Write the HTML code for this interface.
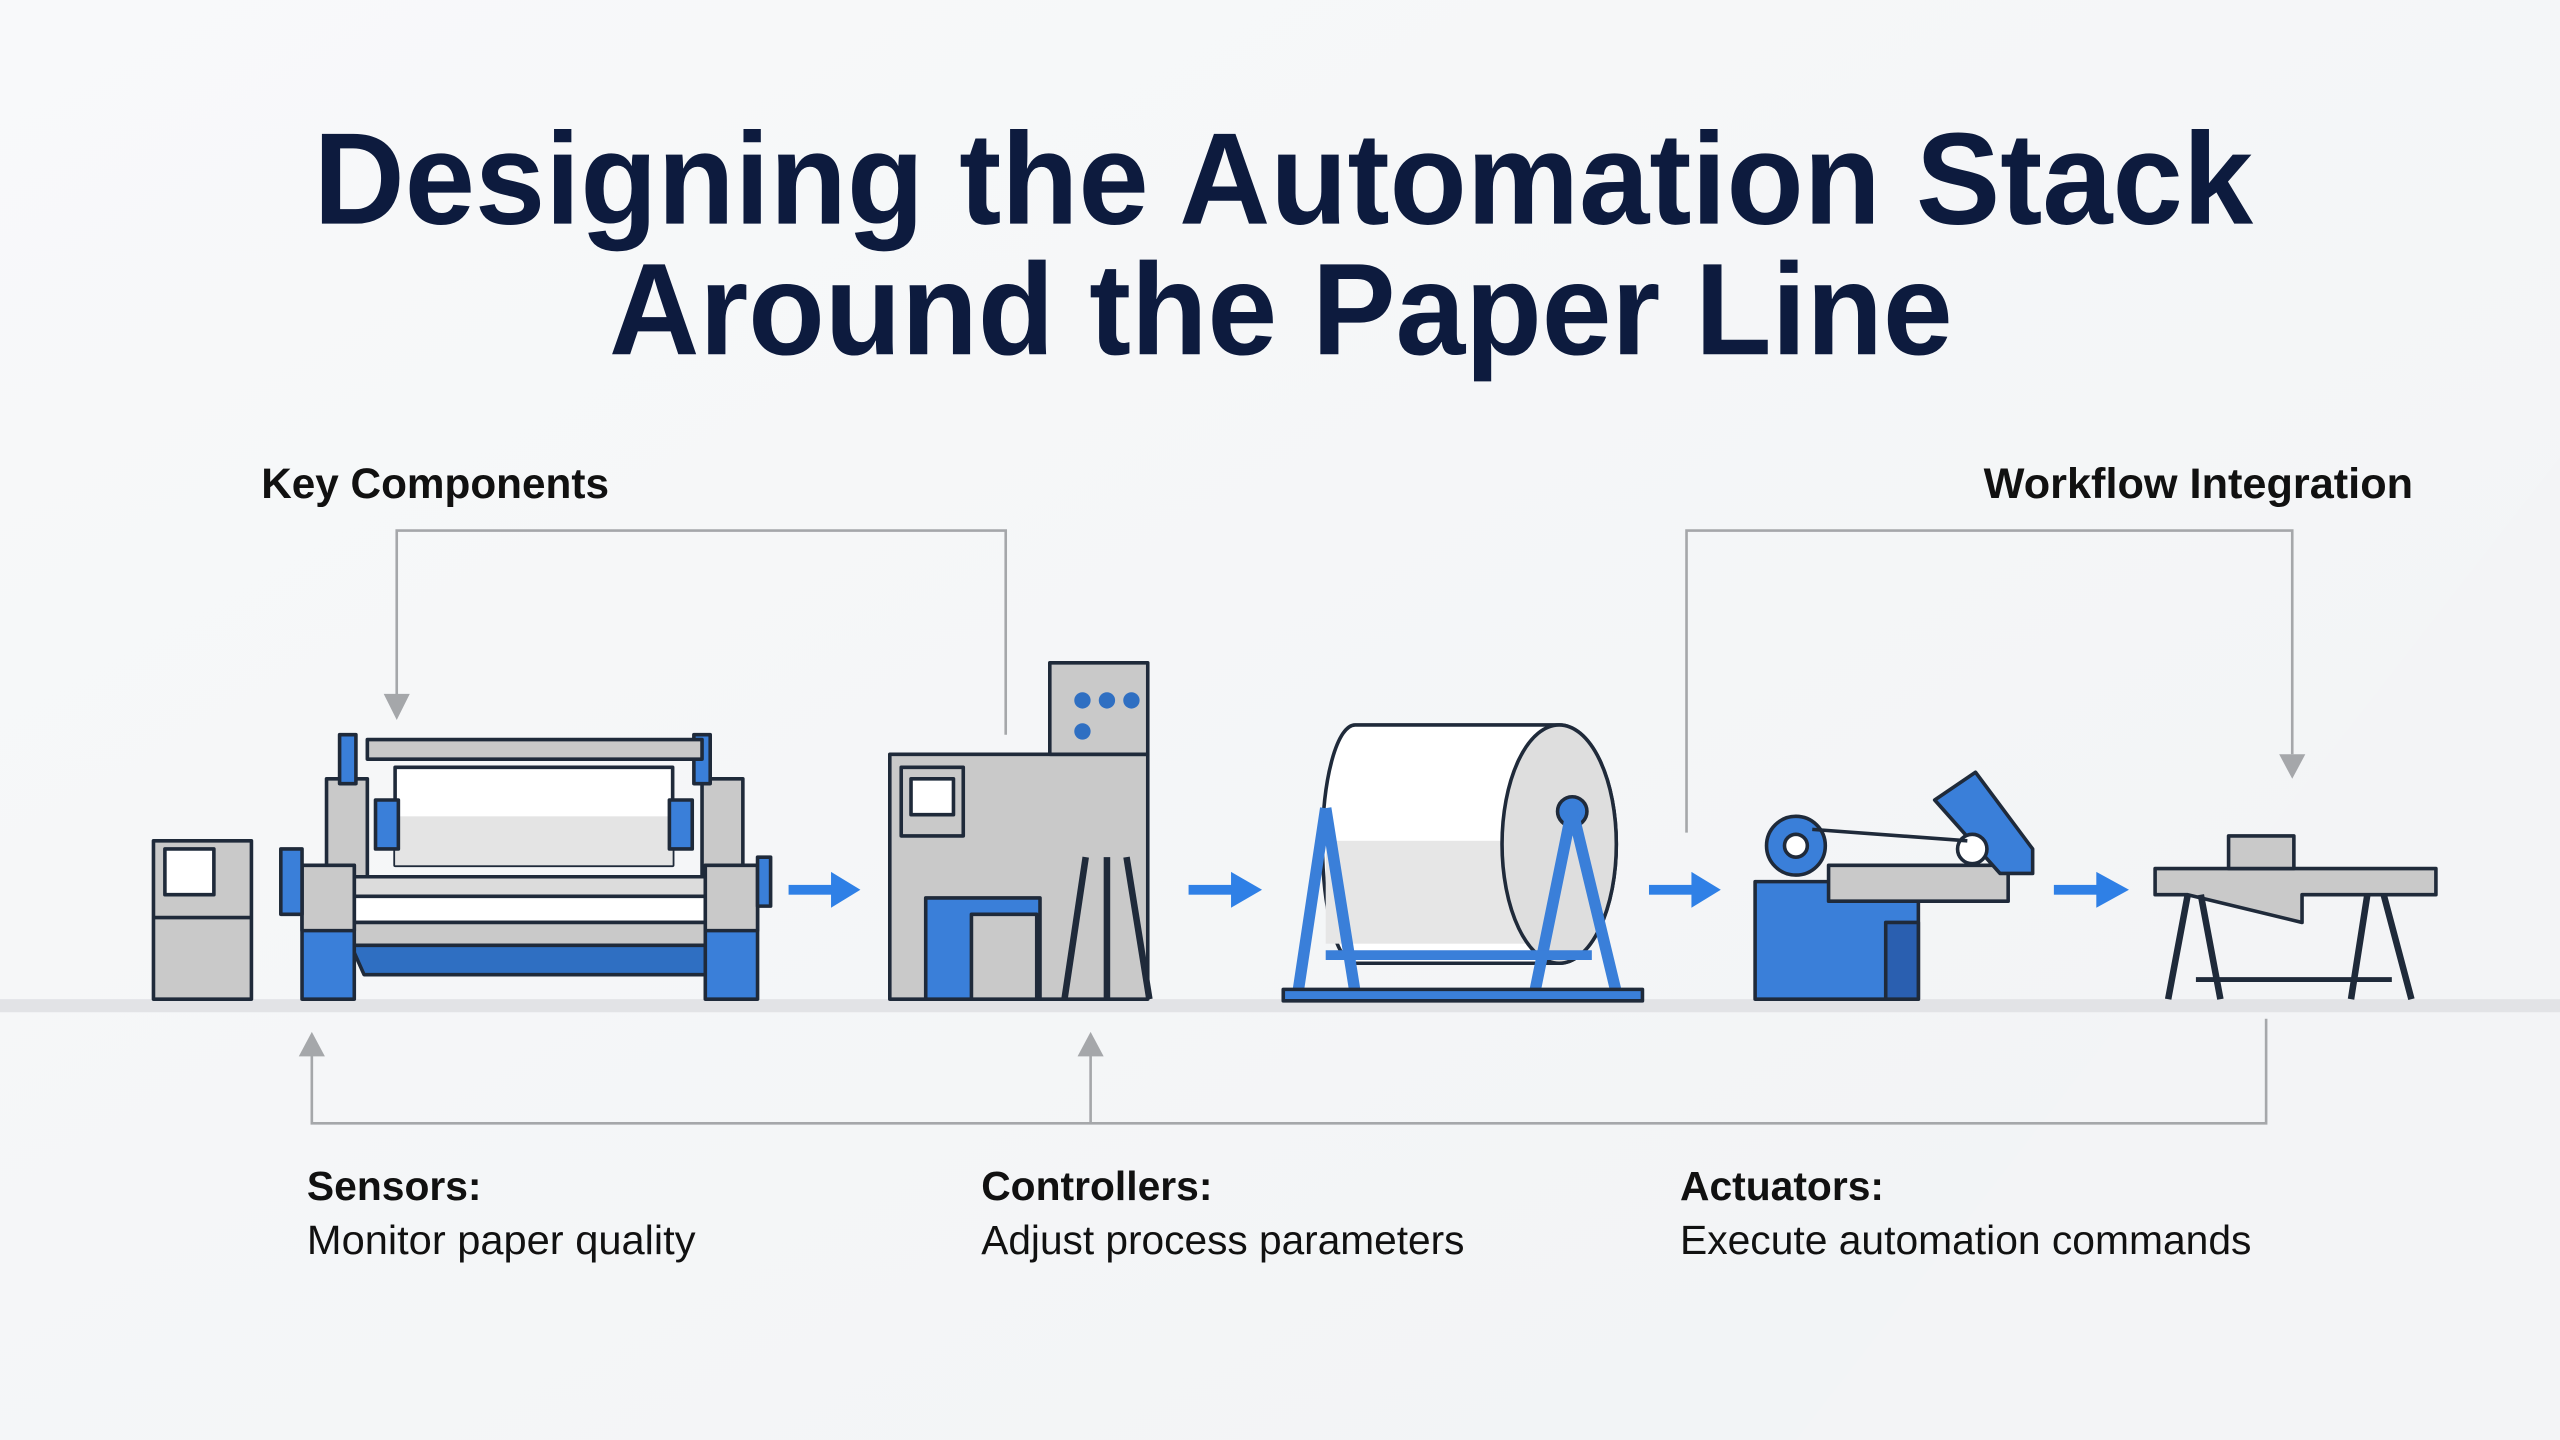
<!DOCTYPE html>
<html><head><meta charset="utf-8"><style>
html,body{margin:0;padding:0;background:#f7f8f9}
svg{display:block}
</style></head><body>
<svg width="2560" height="1440" viewBox="0 0 1568 882" xmlns="http://www.w3.org/2000/svg" font-family="Liberation Sans, sans-serif">
<defs>
<linearGradient id="bg" x1="0" y1="0" x2="1" y2="1"><stop offset="0" stop-color="#f8f9fa"/><stop offset="1" stop-color="#f1f3f5"/></linearGradient>
</defs>
<rect width="1568" height="882" fill="url(#bg)"/>
<polygon points="1568,280 1568,882 1100,882" fill="#f3f4f6"/>
<g fill="#0d1b3e" font-weight="bold">
<text x="192" y="137" font-size="80" textLength="1188" lengthAdjust="spacingAndGlyphs">Designing the Automation Stack</text>
<text x="373" y="217" font-size="80" textLength="823" lengthAdjust="spacingAndGlyphs">Around the Paper Line</text>
</g>
<g fill="#111" font-weight="bold" font-size="26">
<text x="160" y="305" textLength="213" lengthAdjust="spacingAndGlyphs">Key Components</text>
<text x="1215" y="305" textLength="263" lengthAdjust="spacingAndGlyphs">Workflow Integration</text>
</g>
<g stroke="#a5a7aa" stroke-width="1.6" fill="none">
<polyline points="243,426 243,325 616,325 616,450"/>
<polyline points="1033,510 1033,325 1404,325 1404,462"/>
<polyline points="191,646 191,688 1388,688 1388,624"/>
<line x1="668" y1="646" x2="668" y2="688"/>
</g>
<g fill="#a5a7aa">
<polygon points="235,425 251,425 243,441"/>
<polygon points="1396,462 1412,462 1404,477"/>
<polygon points="183,647 199,647 191,632"/>
<polygon points="660,647 676,647 668,632"/>
</g>
<rect x="0" y="612" width="1568" height="8" fill="#e2e3e6"/>
<g fill="#2f80e6">
<rect x="483" y="542" width="28" height="6"/><polygon points="509,534 527,545 509,556"/>
<rect x="728" y="542" width="28" height="6"/><polygon points="754,534 773,545 754,556"/>
<rect x="1010" y="542" width="28" height="6"/><polygon points="1036,534 1054,545 1036,556"/>
<rect x="1258" y="542" width="28" height="6"/><polygon points="1284,534 1304,545 1284,556"/>
</g>
<g stroke="#1f2a3a" stroke-width="2.2" stroke-linejoin="round">
<rect x="94" y="515" width="60" height="97" fill="#c9c9c9"/>
<line x1="94" y1="562" x2="154" y2="562"/>
<rect x="101" y="520" width="30" height="28" fill="#fff"/>
<rect x="200" y="477" width="25" height="60" fill="#c9c9c9"/>
<rect x="430" y="477" width="25" height="60" fill="#c9c9c9"/>
<rect x="208" y="450" width="10" height="30" fill="#3a7fd9"/>
<rect x="425" y="450" width="10" height="30" fill="#3a7fd9"/>
<rect x="225" y="453" width="205" height="12" fill="#c9c9c9"/>
<rect x="242" y="470" width="170" height="60" fill="#fff"/>
<rect x="242" y="500" width="170" height="30" fill="#e4e4e4" stroke="none"/>
<rect x="230" y="490" width="14" height="30" fill="#3a7fd9"/>
<rect x="410" y="490" width="14" height="30" fill="#3a7fd9"/>
<rect x="215" y="537" width="225" height="12" fill="#dcdcdc"/>
<rect x="215" y="549" width="225" height="16" fill="#fff"/>
<rect x="215" y="565" width="225" height="14" fill="#c9c9c9"/>
<path d="M215 579 H440 L432 597 H223 Z" fill="#2f6fc2"/>
<rect x="185" y="530" width="32" height="82" fill="#3a7fd9"/>
<rect x="185" y="530" width="32" height="40" fill="#c9c9c9"/>
<rect x="432" y="530" width="32" height="82" fill="#3a7fd9"/>
<rect x="432" y="530" width="32" height="40" fill="#c9c9c9"/>
<rect x="172" y="520" width="13" height="40" fill="#3a7fd9"/>
<rect x="464" y="525" width="8" height="30" fill="#3a7fd9"/>
<rect x="545" y="462" width="158" height="150" fill="#c9c9c9"/>
<rect x="643" y="406" width="60" height="56" fill="#c9c9c9"/>
<rect x="552" y="470" width="38" height="42" fill="#c9c9c9"/>
<rect x="558" y="477" width="26" height="22" fill="#fff"/>
<rect x="567" y="550" width="70" height="62" fill="#3a7fd9"/>
<rect x="595" y="560" width="40" height="52" fill="#c9c9c9"/>
<line x1="665" y1="525" x2="652" y2="612" stroke-width="4"/>
<line x1="690" y1="525" x2="704" y2="612" stroke-width="4"/>
<line x1="678" y1="525" x2="678" y2="612" stroke-width="4"/>
<path d="M830 444 H955 A35 73 0 0 1 955 590 H830 A20 73 0 0 1 830 444 Z" fill="#fff"/>
<rect x="812" y="515" width="143" height="63" fill="#e6e6e6" stroke="none"/>
<ellipse cx="955" cy="517" rx="35" ry="73" fill="#dedede"/>
<circle cx="963" cy="497" r="9" fill="#3a7fd9"/>
<path d="M962 500 L940 608 M964 500 L990 608" stroke="#3a7fd9" stroke-width="7" fill="none"/>
<path d="M812 495 L795 608 M812 495 L830 608" stroke="#3a7fd9" stroke-width="7" fill="none"/>
<rect x="786" y="606" width="220" height="7" fill="#3a7fd9"/>
<line x1="812" y1="585" x2="975" y2="585" stroke="#3a7fd9" stroke-width="6"/>
<rect x="1075" y="540" width="100" height="72" fill="#3a7fd9"/>
<rect x="1155" y="565" width="20" height="47" fill="#2a5fb0"/>
<rect x="1120" y="530" width="110" height="22" fill="#c9c9c9"/>
<circle cx="1100" cy="518" r="18" fill="#3a7fd9"/>
<circle cx="1100" cy="518" r="7" fill="#fff"/>
<path d="M1185 490 L1210 473 L1245 520 L1245 535 L1225 535 Z" fill="#3a7fd9"/>
<circle cx="1208" cy="520" r="9" fill="#fff"/>
<line x1="1110" y1="508" x2="1205" y2="515"/>
<path d="M1320 532 H1492 V548 H1410 V565 L1340 548 H1320 Z" fill="#c9c9c9"/>
<rect x="1365" y="512" width="40" height="20" fill="#c9c9c9"/>
<path d="M1340 548 L1328 612 M1348 548 L1360 612 M1450 548 L1440 612 M1460 548 L1477 612" stroke-width="4" fill="none"/>
<line x1="1345" y1="600" x2="1465" y2="600" stroke-width="3"/>
</g>
<g fill="#2f6fc2">
<circle cx="663" cy="429" r="5"/><circle cx="678" cy="429" r="5"/><circle cx="693" cy="429" r="5"/><circle cx="663" cy="448" r="5"/>
</g>
<g fill="#111" font-size="25">
<text x="188" y="735" font-weight="bold">Sensors:</text>
<text x="188" y="768" textLength="238" lengthAdjust="spacingAndGlyphs">Monitor paper quality</text>
<text x="601" y="735" font-weight="bold">Controllers:</text>
<text x="601" y="768" textLength="296" lengthAdjust="spacingAndGlyphs">Adjust process parameters</text>
<text x="1029" y="735" font-weight="bold">Actuators:</text>
<text x="1029" y="768" textLength="350" lengthAdjust="spacingAndGlyphs">Execute automation commands</text>
</g>
</svg>
</body></html>
